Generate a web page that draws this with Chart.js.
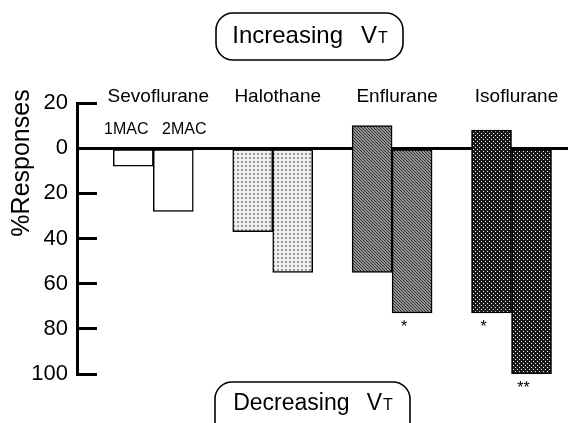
<!DOCTYPE html>
<html>
<head>
<meta charset="utf-8">
<script src="https://cdn.jsdelivr.net/npm/chart.js@4.4.1/dist/chart.umd.min.js"></script>
<style>
  body { margin: 0; background: #fff; }
  canvas { display: block; }
</style>
</head>
<body>
<canvas id="chart" width="571" height="423"></canvas>
<script>
// anaesthetics along the x axis, two doses each
var drugs = ['Sevoflurane', 'Halothane', 'Enflurane', 'Isoflurane'];
var doses = ['1MAC', '2MAC'];
// % of responses with increasing VT (drawn upward)
var increase1MAC = [0, 0, 10, 8];
var increase2MAC = [0, 0, 0, 0];
// % of responses with decreasing VT (drawn downward)
var decrease1MAC = [8, 37, 55, 73];
var decrease2MAC = [28, 55, 73, 100];
// significance marks under the bars
var sig1MAC = ['', '', '', '*'];
var sig2MAC = ['', '', '*', '**'];
var yTicks = [20, 0, -20, -40, -60, -80, -100];

var FONT = '"Liberation Sans", Arial, Helvetica, sans-serif';
var canvas = document.getElementById('chart');
var ctx = canvas.getContext('2d');

// small tiles for the fill textures
function makePattern(size, bg, fg, cells) {
    var tile = document.createElement('canvas');
    tile.width = size;
    tile.height = size;
    var g = tile.getContext('2d');
    g.fillStyle = bg;
    g.fillRect(0, 0, size, size);
    g.fillStyle = fg;
    cells.forEach(function (c) {
        g.fillRect(c[0], c[1], c[2] || 1, c[3] || 1);
    });
    return ctx.createPattern(tile, 'repeat');
}

var halothaneFill = makePattern(4, '#efefef', '#9c9c9c', [[1, 1, 2, 2]]);
var enfluraneFill = makePattern(3, '#959595', '#2e2e2e', [[0, 0], [1, 1], [2, 2]]);
var isofluraneFill = makePattern(4, '#1a1a1a', '#f2f2f2', [[1, 1], [3, 3]]);
var drugFills = ['#ffffff', halothaneFill, enfluraneFill, isofluraneFill];

function floating(inc, dec) {
    return drugs.map(function (d, i) {
        return { x: i, y: [inc[i], -dec[i]] };
    });
}

function pill(c, left, right, top, bottom, word, size, baseY) {
    var r = 17;
    c.beginPath();
    c.moveTo(left + r, top);
    c.lineTo(right - r, top);
    c.arcTo(right, top, right, top + r, r);
    c.lineTo(right, bottom - r);
    c.arcTo(right, bottom, right - r, bottom, r);
    c.lineTo(left + r, bottom);
    c.arcTo(left, bottom, left, bottom - r, r);
    c.lineTo(left, top + r);
    c.arcTo(left, top, left + r, top, r);
    c.closePath();
    c.lineWidth = 1.6;
    c.stroke();

    var small = Math.round(size * 0.68);
    c.font = size + 'px ' + FONT;
    var wWord = c.measureText(word).width;
    var wV = c.measureText('V').width;
    var gap = size * 0.75;
    c.font = small + 'px ' + FONT;
    var wT = c.measureText('T').width;
    var x0 = (left + right) / 2 - (wWord + gap + wV + wT) / 2;
    c.textAlign = 'left';
    c.textBaseline = 'alphabetic';
    c.font = size + 'px ' + FONT;
    c.fillText(word, x0, baseY);
    c.fillText('V', x0 + wWord + gap, baseY);
    c.font = small + 'px ' + FONT;
    c.fillText('T', x0 + wWord + gap + wV + 1, baseY);
}

var annotations = {
    id: 'annotations',
    afterDraw: function (chart) {
        var c = chart.ctx;
        var xs = chart.scales.x;
        c.save();
        c.fillStyle = '#000';
        c.strokeStyle = '#000';

        // drug names above the zero line
        c.font = '19px ' + FONT;
        c.textAlign = 'center';
        c.textBaseline = 'middle';
        drugs.forEach(function (d, i) {
            c.fillText(d, xs.getPixelForValue(i) + 5, 97);
        });

        // dose labels under the first drug
        var b1 = chart.getDatasetMeta(0).data[0];
        var b2 = chart.getDatasetMeta(1).data[0];
        c.font = '16px ' + FONT;
        c.fillText(doses[0], b1.x - 7, 130);
        c.fillText(doses[1], b2.x + 11, 130);

        // asterisks below bars
        c.font = '16px ' + FONT;
        c.textBaseline = 'alphabetic';
        [sig1MAC, sig2MAC].forEach(function (sig, d) {
            var bars = chart.getDatasetMeta(d).data;
            sig.forEach(function (s, i) {
                if (!s) return;
                c.fillText(s, bars[i].x - 8, bars[i].y + 19);
            });
        });

        // boxed captions
        pill(c, 216, 403, 13, 60, 'Increasing', 24, 43);
        pill(c, 215, 410, 382, 445, 'Decreasing', 23, 410);

        // y axis title
        c.translate(22, 163);
        c.rotate(-Math.PI / 2);
        c.font = '25px ' + FONT;
        c.textAlign = 'center';
        c.textBaseline = 'middle';
        c.fillText('%Responses', 0, 0);
        c.restore();
    }
};

new Chart(ctx, {
    type: 'bar',
    data: {
        datasets: [{
            label: doses[0],
            data: floating(increase1MAC, decrease1MAC),
            backgroundColor: drugFills,
            borderColor: '#000',
            borderWidth: 1.5,
            borderSkipped: false
        }, {
            label: doses[1],
            data: floating(increase2MAC, decrease2MAC),
            backgroundColor: drugFills,
            borderColor: '#000',
            borderWidth: 1.5,
            borderSkipped: false
        }]
    },
    options: {
        responsive: false,
        animation: false,
        barThickness: 40,
        layout: { padding: { left: 0, right: 3, top: 103, bottom: 49 } },
        plugins: {
            legend: { display: false },
            tooltip: { enabled: false }
        },
        scales: {
            x: {
                type: 'linear',
                min: -0.639,
                max: 3.473,
                offset: false,
                display: false,
                grid: { offset: false },
                afterBuildTicks: function (s) {
                    s.ticks = drugs.map(function (d, i) { return { value: i }; });
                }
            },
            y: {
                min: -100,
                max: 20,
                z: 1,
                afterFit: function (s) { s.width = 77; },
                afterBuildTicks: function (s) {
                    s.ticks = yTicks.map(function (v) { return { value: v }; });
                },
                border: { display: true, color: '#000', width: 3 },
                grid: {
                    drawTicks: true,
                    tickLength: -20,
                    tickWidth: 3,
                    tickColor: '#000',
                    color: function (c) {
                        return c.tick && c.tick.value === 0 ? '#000' : 'rgba(0,0,0,0)';
                    },
                    lineWidth: function (c) {
                        return c.tick && c.tick.value === 0 ? 3 : 1;
                    }
                },
                ticks: {
                    padding: 29,
                    color: '#000',
                    font: { family: FONT, size: 22 },
                    callback: function (v) { return Math.abs(v); }
                }
            }
        }
    },
    plugins: [annotations]
});
</script>
</body>
</html>
